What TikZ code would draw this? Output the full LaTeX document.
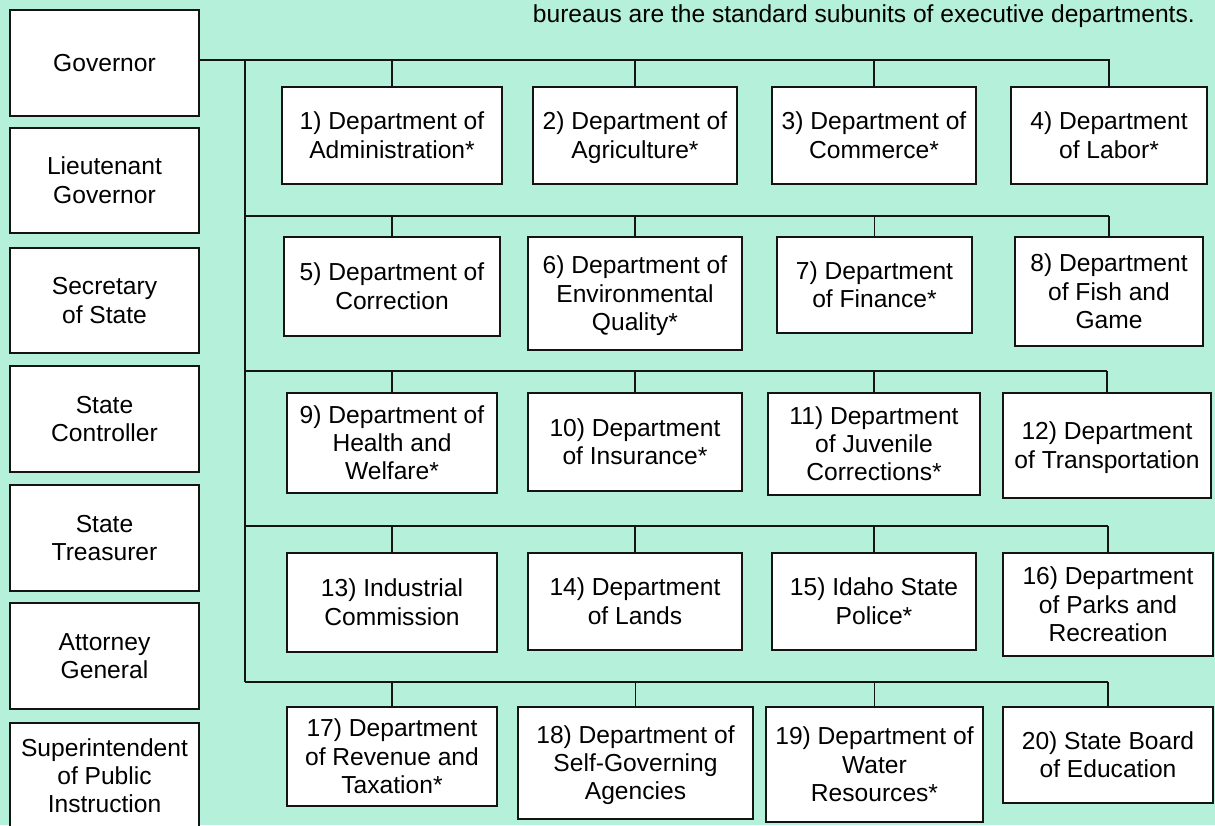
\documentclass[tikz,border=0pt]{standalone}
\usepackage{fontspec}
\setmainfont{Liberation Sans}
\definecolor{mint}{RGB}{181,240,218}
\definecolor{ink}{RGB}{20,20,20}
\newcommand{\lnstrut}{\rule[-5.2pt]{0pt}{27.5pt}}
\tikzset{
  box/.style={draw=ink, fill=white, line width=1.6pt, inner sep=0pt, align=center,
    font=\fontsize{24.6}{28.4}\selectfont},
  conn/.style={draw=ink, line width=1.6pt},
}
\newcommand{\orgbox}[6]{\node[box, minimum width={#4-#2}, minimum height={#5-#3}] (#1) at ({(#2+#4)/2},{(#3+#5)/2}) {\lnstrut#6\lnstrut};}
\begin{document}
\begin{tikzpicture}[x=1pt,y=-1pt]
\fill[mint] (0,0) rectangle (1215,825);
\useasboundingbox (0,0) rectangle (1215,825);
\clip (0,0) rectangle (1215,825);

\node[anchor=base east, font=\fontsize{24.6}{28.4}\selectfont, inner sep=0pt] (note) at (1195,22) {bureaus are the standard subunits of executive departments.};

% left column
\orgbox{gov}{10}{10}{199}{116}{Governor}
\orgbox{ltgov}{10}{128}{199}{233}{Lieutenant\\Governor}
\orgbox{sos}{10}{248}{199}{353}{Secretary\\of State}
\orgbox{ctrl}{10}{366}{199}{472}{State\\Controller}
\orgbox{treas}{10}{485}{199}{591}{State\\Treasurer}
\orgbox{ag}{10}{603}{199}{709}{Attorney\\General}
\orgbox{supt}{10}{723}{199}{829}{Superintendent\\of Public\\Instruction}

% row 1
\orgbox{d1}{282}{87}{502}{184}{1) Department of\\Administration*}
\orgbox{d2}{533}{87}{737}{184}{2) Department of\\Agriculture*}
\orgbox{d3}{772}{87}{976}{184}{3) Department of\\Commerce*}
\orgbox{d4}{1011}{87}{1207}{184}{4) Department\\of Labor*}
% row 2
\orgbox{d5}{284}{237}{500}{336}{5) Department of\\Correction}
\orgbox{d6}{528}{237}{742}{350}{6) Department of\\Environmental\\Quality*}
\orgbox{d7}{777}{237}{972}{333}{7) Department\\of Finance*}
\orgbox{d8}{1015}{237}{1203}{346}{8) Department\\of Fish and\\Game}
% row 3
\orgbox{d9}{287}{393}{497}{493}{9) Department of\\Health and\\Welfare*}
\orgbox{d10}{528}{393}{742}{491}{10) Department\\of Insurance*}
\orgbox{d11}{768}{393}{980}{495}{11) Department\\of Juvenile\\Corrections*}
\orgbox{d12}{1003}{393}{1211}{498}{12) Department\\of Transportation}
% row 4
\orgbox{d13}{287}{553}{497}{652}{13) Industrial\\Commission}
\orgbox{d14}{528}{553}{742}{650}{14) Department\\of Lands}
\orgbox{d15}{772}{553}{976}{650}{15) Idaho State\\Police*}
\orgbox{d16}{1003}{553}{1213}{656}{16) Department\\of Parks and\\Recreation}
% row 5
\orgbox{d17}{287}{707}{497}{806}{17) Department\\of Revenue and\\Taxation*}
\orgbox{d18}{518}{707}{753}{819}{18) Department of\\Self-Governing\\Agencies}
\orgbox{d19}{766}{707}{983}{822}{19) Department of\\Water\\Resources*}
\orgbox{d20}{1003}{707}{1213}{803}{20) State Board\\of Education}

% bus coordinates
\coordinate (t1) at (245,60);
\coordinate (t2) at (245,216);
\coordinate (t3) at (245,371);
\coordinate (t4) at (245,526);
\coordinate (t5) at (245,682);

% governor to row 1
\draw[conn] (gov.east |- t1) -- (d4.north |- t1) -- (d4.north);
\foreach \d in {d1,d2,d3}{\draw[conn] (\d.north) -- (\d.north |- t1);}
% trunk
\draw[conn] (t1) -- (t5);
% row buses
\draw[conn] (t2) -- (d8.north |- t2);
\foreach \d in {d5,d6,d7,d8}{\draw[conn] (\d.north) -- (\d.north |- t2);}
\draw[conn] (t3) -- (d12.north |- t3);
\foreach \d in {d9,d10,d11,d12}{\draw[conn] (\d.north) -- (\d.north |- t3);}
\draw[conn] (t4) -- (d16.north |- t4);
\foreach \d in {d13,d14,d15,d16}{\draw[conn] (\d.north) -- (\d.north |- t4);}
\draw[conn] (t5) -- (d20.north |- t5);
\foreach \d in {d17,d18,d19,d20}{\draw[conn] (\d.north) -- (\d.north |- t5);}
\end{tikzpicture}
\end{document}
